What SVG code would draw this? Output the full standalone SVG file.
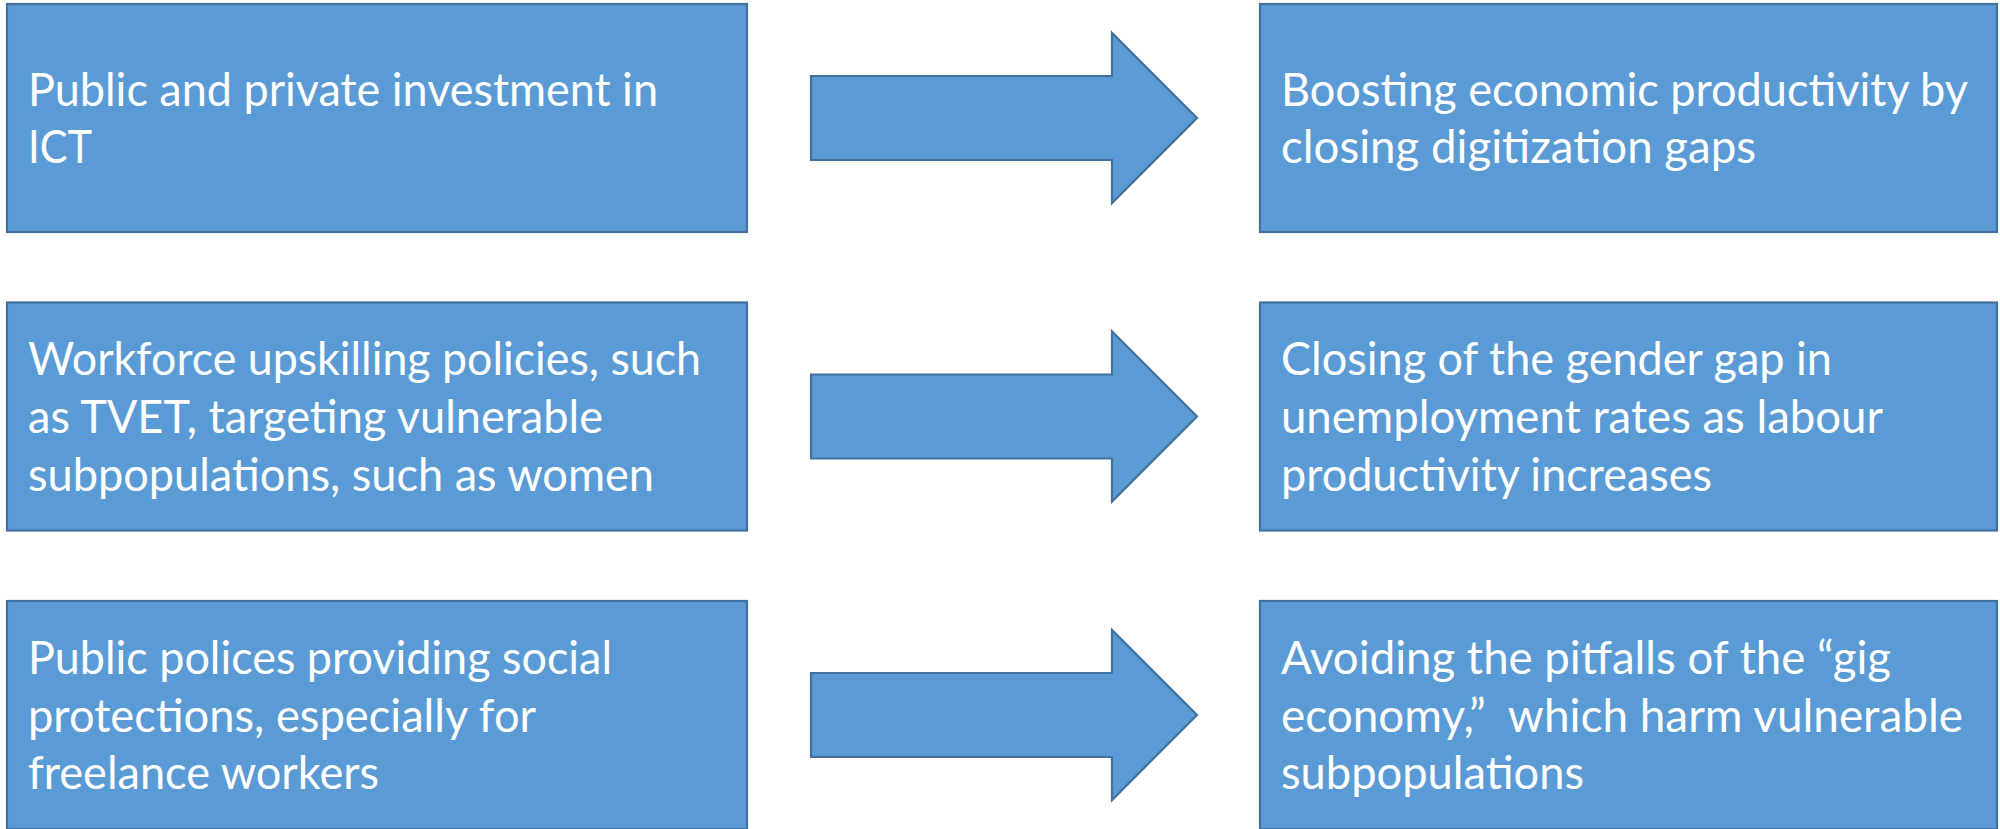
<svg xmlns="http://www.w3.org/2000/svg" width="2000" height="829" viewBox="0 0 2000 829">
<style>
.box{fill:#5B9BD5;stroke:#41719C;stroke-width:2.2}
.arrow{fill:#5B9BD5;stroke:#41719C;stroke-width:2.2;stroke-linejoin:miter}
.t{font-family:Lato,"Open Sans","Liberation Sans",sans-serif;font-size:46px;fill:#FFFFFF}
</style>
<rect width="2000" height="829" fill="#FFFFFF"/>
<g id="node-l1">
<rect class="box" x="7" y="4" width="740" height="228"/>
<text class="t" x="28" y="106" textLength="630" lengthAdjust="spacingAndGlyphs">Public and private investment in</text>
<text class="t" x="28" y="163" textLength="64" lengthAdjust="spacingAndGlyphs">ICT</text>
</g>
<g id="node-r1">
<rect class="box" x="1260" y="4" width="737" height="228"/>
<text class="t" x="1281" y="106" textLength="687" lengthAdjust="spacingAndGlyphs">Boosting economic productivity by</text>
<text class="t" x="1281" y="163" textLength="475" lengthAdjust="spacingAndGlyphs">closing digitization gaps</text>
</g>
<g id="node-l2">
<rect class="box" x="7" y="302.5" width="740" height="228"/>
<text class="t" x="28" y="375" textLength="673" lengthAdjust="spacingAndGlyphs">Workforce upskilling policies, such</text>
<text class="t" x="28" y="433" textLength="575" lengthAdjust="spacingAndGlyphs">as TVET, targeting vulnerable</text>
<text class="t" x="28" y="491" textLength="626" lengthAdjust="spacingAndGlyphs">subpopulations, such as women</text>
</g>
<g id="node-r2">
<rect class="box" x="1260" y="302.5" width="737" height="228"/>
<text class="t" x="1281" y="375" textLength="551" lengthAdjust="spacingAndGlyphs">Closing of the gender gap in</text>
<text class="t" x="1281" y="433" textLength="602" lengthAdjust="spacingAndGlyphs">unemployment rates as labour</text>
<text class="t" x="1281" y="491" textLength="431" lengthAdjust="spacingAndGlyphs">productivity increases</text>
</g>
<g id="node-l3">
<rect class="box" x="7" y="601" width="740" height="228"/>
<text class="t" x="28" y="674" textLength="584" lengthAdjust="spacingAndGlyphs">Public polices providing social</text>
<text class="t" x="28" y="732" textLength="508" lengthAdjust="spacingAndGlyphs">protections, especially for</text>
<text class="t" x="28" y="789" textLength="351" lengthAdjust="spacingAndGlyphs">freelance workers</text>
</g>
<g id="node-r3">
<rect class="box" x="1260" y="601" width="737" height="228"/>
<text class="t" x="1281" y="674" textLength="610" lengthAdjust="spacingAndGlyphs">Avoiding the pitfalls of the “gig</text>
<text class="t" x="1281" y="732" textLength="682" lengthAdjust="spacingAndGlyphs" xml:space="preserve">economy,”  which harm vulnerable</text>
<text class="t" x="1281" y="789" textLength="303" lengthAdjust="spacingAndGlyphs">subpopulations</text>
</g>
<g id="connectors">
<path class="arrow" d="M811,76 H1112 V33 L1197,118 L1112,203 V160 H811 Z"/>
<path class="arrow" d="M811,374.5 H1112 V331.5 L1197,416.5 L1112,501.5 V458.5 H811 Z"/>
<path class="arrow" d="M811,673 H1112 V630 L1197,715 L1112,800 V757 H811 Z"/>
</g>
</svg>
